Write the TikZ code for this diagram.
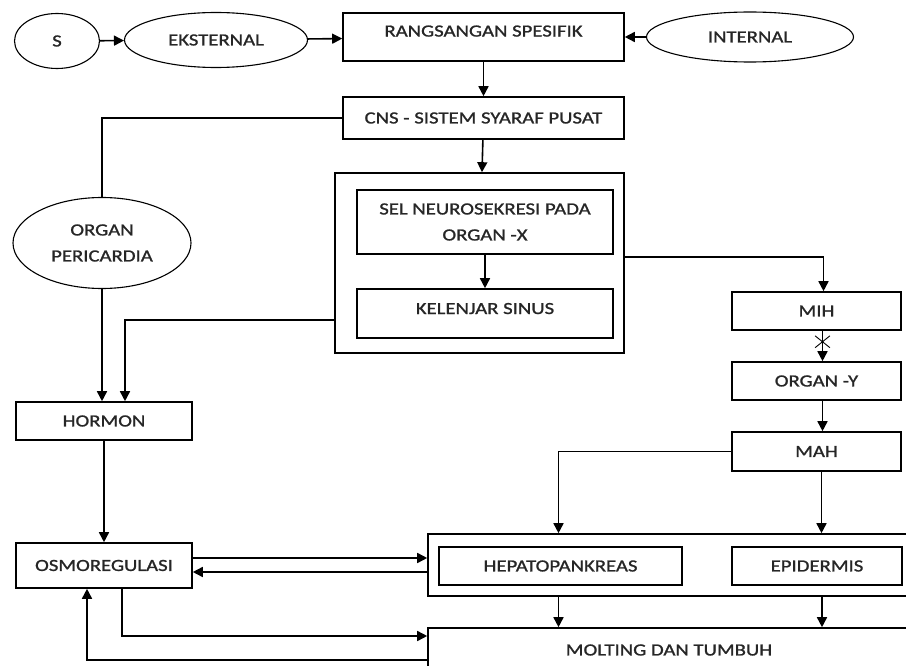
\documentclass[tikz,border=0pt]{standalone}
\usepackage{fontspec}
\setmainfont{Carlito}[FakeStretch=1.22, FakeBold=1.2]
\usetikzlibrary{arrows.meta, shapes.geometric, shapes.misc}

\begin{document}
\begin{tikzpicture}[x = 1pt, y = -1pt, line width = 1.6pt, >={Triangle[length=10pt, width=10pt]},
	box/.style = {rectangle, draw, inner sep = 0pt, text = black!85, font = \fontsize{17}{26}\selectfont, align = center},
	oval/.style = {ellipse, draw, line width = 1.1pt, inner sep = 0pt, text = black!85, font = \fontsize{17}{26}\selectfont, align = center}]
	\useasboundingbox (0, 0) rectangle (906, 666);
	\clip (0, 0) rectangle (906, 666);
	
	% Nodes
	\node[oval, minimum width = 85pt, minimum height = 55pt] (s) at (57, 41) {S};
	\node[oval, minimum width = 183pt, minimum height = 55pt] (eksternal) at (216, 40) {EKSTERNAL};
	\node[box, minimum width = 281pt, minimum height = 48pt, text depth = 12pt] (rangsangan) at (483.5, 37) {RANGSANGAN SPESIFIK};
	\node[oval, minimum width = 207pt, minimum height = 50pt] (internal) at (750, 37) {INTERNAL};
	\node[box, minimum width = 281pt, minimum height = 42pt] (cns) at (483.5, 118) {CNS - SISTEM SYARAF PUSAT};
	\node[box, minimum width = 289pt, minimum height = 180pt] (neuro) at (479.5, 263) {};
	\node[box, minimum width = 256pt, minimum height = 64pt] (sel) at (485, 222) {SEL NEUROSEKRESI PADA\\ORGAN -X};
	\node[box, minimum width = 256pt, minimum height = 49pt, text depth = 10pt] (sinus) at (485, 313.5) {KELENJAR SINUS};
	\node[oval, minimum width = 178pt, minimum height = 91pt] (pericardia) at (102, 243) {ORGAN\\PERICARDIA};
	\node[box, minimum width = 176pt, minimum height = 38pt] (hormon) at (104, 421) {HORMON};
	\node[box, minimum width = 176pt, minimum height = 45pt] (osmo) at (104, 565.5) {OSMOREGULASI};
	\node[box, minimum width = 169pt, minimum height = 38pt] (mih) at (816.5, 311) {MIH};
	\node[box, minimum width = 169pt, minimum height = 38pt] (organy) at (816.5, 381) {ORGAN -Y};
	\node[box, minimum width = 169pt, minimum height = 39pt] (mah) at (816.5, 451.5) {MAH};
	\node[box, minimum width = 482pt, minimum height = 62pt] (target) at (669, 565) {};
	\node[box, minimum width = 243pt, minimum height = 38pt] (hepato) at (560.5, 566) {HEPATOPANKREAS};
	\node[box, minimum width = 170pt, minimum height = 38pt] (epidermis) at (817, 566) {EPIDERMIS};
	\node[box, minimum width = 482pt, minimum height = 44pt] (molting) at (669, 650) {MOLTING DAN TUMBUH};
	
	% Edges
	\draw[->] (s) -- (eksternal);
	\draw[->] (eksternal) -- (rangsangan);
	\draw[->] (internal) -- (rangsangan);
	\draw[->] (rangsangan) -- (cns);
	\draw[->] (cns) -- (neuro);
	\draw[->] (sel) -- (sinus);
	\draw (cns.west) -| (pericardia.north);
	\draw[->] (pericardia.south) -- (pericardia.south |- hormon.north);
	\draw[->] ([yshift = -57pt]neuro.west) -| ([xshift = 21pt]hormon.north);
	\draw[->] ([yshift = 6pt]neuro.east) -| ([xshift = 7pt]mih.north);
	\draw[->] ([xshift = 6pt]mih.south) -- node[cross out, draw, line width = 0.9pt, minimum width = 14pt, minimum height = 11pt, inner sep = 0pt, pos = 0.36] (blok) {} ([xshift = 6pt]organy.north);
	\draw[->] ([xshift = 6pt]organy.south) -- ([xshift = 6pt]mah.north);
	\draw[->] (mah.west) -| ([xshift = -2pt]hepato.north |- target.north);
	\draw[->] ([xshift = 5pt]mah.south) -- ([xshift = 5pt]mah.south |- target.north);
	\draw[->] (hormon) -- (osmo);
	\draw[->] ([yshift = 7.5pt]osmo.east) -- ([yshift = 7.5pt]osmo.east -| target.west);
	\draw[->] ([yshift = -6.5pt]osmo.east -| target.west) -- ([yshift = -6.5pt]osmo.east);
	\draw[->] ([xshift = -2pt]hepato.south |- target.south) -- ([xshift = -2pt]hepato.south |- molting.north);
	\draw[->] ([xshift = 5pt]epidermis.south |- target.south) -- ([xshift = 5pt]epidermis.south |- molting.north);
	\draw[->] ([xshift = 18pt]osmo.south) |- ([yshift = 14pt]molting.west);
	\draw[->] ([yshift = -10pt]molting.west) -| ([xshift = -17pt]osmo.south);
\end{tikzpicture}
\end{document}
